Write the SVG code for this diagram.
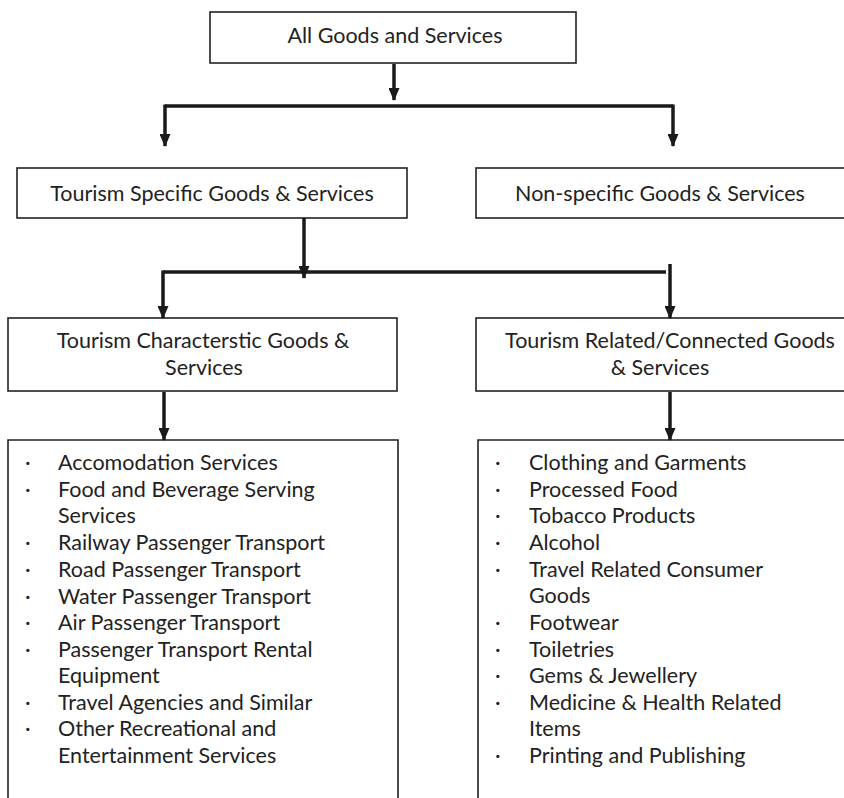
<svg xmlns="http://www.w3.org/2000/svg" width="844" height="798" viewBox="0 0 844 798">
<style>
.box{fill:#fff;stroke:#222;stroke-width:1.6}
.t{font-family:Lato,"Open Sans",sans-serif;font-size:21.5px;fill:#222;text-anchor:middle}
.l{font-family:Lato,"Open Sans",sans-serif;font-size:21.5px;fill:#222}
.c{stroke:#1a1a1a;stroke-width:3.5;fill:none}
</style>
<defs>
<marker id="ah" viewBox="0 0 13 11" refX="12" refY="5.5" markerWidth="13" markerHeight="11" markerUnits="userSpaceOnUse" orient="auto">
<path d="M0,0 L13,5.5 L0,11 Z" fill="#1a1a1a"/>
</marker>
</defs>
<g id="n-all"><rect class="box" x="210" y="12" width="366" height="51"/><text class="t" x="395" y="43">All Goods and Services</text></g>
<g id="n-specific"><rect class="box" x="17" y="168" width="390" height="50"/><text class="t" x="212" y="201">Tourism Specific Goods &amp; Services</text></g>
<g id="n-nonspecific"><rect class="box" x="476" y="168" width="380" height="50"/><text class="t" x="660" y="201">Non-specific Goods &amp; Services</text></g>
<g id="n-char"><rect class="box" x="8" y="318" width="389" height="73"/><text class="t" x="203" y="348">Tourism Characterstic Goods &amp;</text><text class="t" x="204" y="375">Services</text></g>
<g id="n-related"><rect class="box" x="476" y="318" width="380" height="73"/><text class="t" x="670" y="348">Tourism Related/Connected Goods</text><text class="t" x="660" y="375">&amp; Services</text></g>
<g id="n-charlist"><path class="box" d="M8,800 V440 H398 V800"/>
<g class="l">
<text x="25" y="470">·</text><text x="58" y="470">Accomodation Services</text>
<text x="25" y="497">·</text><text x="58" y="497">Food and Beverage Serving</text>
<text x="58" y="523">Services</text>
<text x="25" y="550">·</text><text x="58" y="550">Railway Passenger Transport</text>
<text x="25" y="577">·</text><text x="58" y="577">Road Passenger Transport</text>
<text x="25" y="604">·</text><text x="58" y="604">Water Passenger Transport</text>
<text x="25" y="630">·</text><text x="58" y="630">Air Passenger Transport</text>
<text x="25" y="657">·</text><text x="58" y="657">Passenger Transport Rental</text>
<text x="58" y="683">Equipment</text>
<text x="25" y="710">·</text><text x="58" y="710">Travel Agencies and Similar</text>
<text x="25" y="736">·</text><text x="58" y="736">Other Recreational and</text>
<text x="58" y="763">Entertainment Services</text>
</g></g>
<g id="n-relatedlist"><path class="box" d="M478,800 V440 H850"/>
<g class="l">
<text x="495" y="470">·</text><text x="529" y="470">Clothing and Garments</text>
<text x="495" y="497">·</text><text x="529" y="497">Processed Food</text>
<text x="495" y="523">·</text><text x="529" y="523">Tobacco Products</text>
<text x="495" y="550">·</text><text x="529" y="550">Alcohol</text>
<text x="495" y="577">·</text><text x="529" y="577">Travel Related Consumer</text>
<text x="529" y="603">Goods</text>
<text x="495" y="630">·</text><text x="529" y="630">Footwear</text>
<text x="495" y="657">·</text><text x="529" y="657">Toiletries</text>
<text x="495" y="683">·</text><text x="529" y="683">Gems &amp; Jewellery</text>
<text x="495" y="710">·</text><text x="529" y="710">Medicine &amp; Health Related</text>
<text x="529" y="736">Items</text>
<text x="495" y="763">·</text><text x="529" y="763">Printing and Publishing</text>
</g></g>
<g id="connectors">
<path class="c" d="M394,64 V100" marker-end="url(#ah)"/>
<path class="c" d="M165,106 H673"/>
<path class="c" d="M165,104.5 V146" marker-end="url(#ah)"/>
<path class="c" d="M673,104.5 V146" marker-end="url(#ah)"/>
<path class="c" d="M304,218 V278" marker-end="url(#ah)"/>
<path class="c" d="M163,272 H666"/>
<path class="c" d="M163,270.5 V318" marker-end="url(#ah)"/>
<path class="c" d="M670,264 V318" marker-end="url(#ah)"/>
<path class="c" d="M164,392 V440" marker-end="url(#ah)"/>
<path class="c" d="M670,392 V440" marker-end="url(#ah)"/>
</g>
</svg>
